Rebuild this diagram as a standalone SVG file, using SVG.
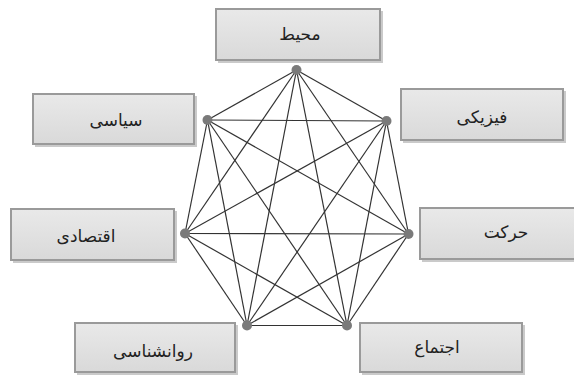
<svg xmlns="http://www.w3.org/2000/svg" width="574" height="376" viewBox="0 0 574 376">
<style>
.box{fill:url(#g);stroke:#9a9a9a;stroke-width:2}
.sh{fill:#cacaca}
.lbl{font-family:"DejaVu Sans","Noto Sans",sans-serif;font-size:17px;fill:#222;text-anchor:middle}
.dot{fill:#7a7a7a}
#edges line{stroke:#333;stroke-width:1.2}
</style>
<defs>
<linearGradient id="g" x1="0" y1="0" x2="0" y2="1">
<stop offset="0" stop-color="#e9e9e9"/>
<stop offset="1" stop-color="#d9d9d9"/>
</linearGradient>
</defs>
<rect width="574" height="376" fill="#fff"/>
<g id="edges">
<line x1="296.5" y1="70" x2="207.5" y2="120"/>
<line x1="296.5" y1="70" x2="386.5" y2="121"/>
<line x1="296.5" y1="70" x2="185" y2="233.5"/>
<line x1="296.5" y1="70" x2="408.5" y2="234"/>
<line x1="296.5" y1="70" x2="247" y2="325.5"/>
<line x1="296.5" y1="70" x2="347" y2="325.5"/>
<line x1="207.5" y1="120" x2="386.5" y2="121"/>
<line x1="207.5" y1="120" x2="185" y2="233.5"/>
<line x1="207.5" y1="120" x2="408.5" y2="234"/>
<line x1="207.5" y1="120" x2="247" y2="325.5"/>
<line x1="207.5" y1="120" x2="347" y2="325.5"/>
<line x1="386.5" y1="121" x2="185" y2="233.5"/>
<line x1="386.5" y1="121" x2="408.5" y2="234"/>
<line x1="386.5" y1="121" x2="247" y2="325.5"/>
<line x1="386.5" y1="121" x2="347" y2="325.5"/>
<line x1="185" y1="233.5" x2="408.5" y2="234"/>
<line x1="185" y1="233.5" x2="247" y2="325.5"/>
<line x1="185" y1="233.5" x2="347" y2="325.5"/>
<line x1="408.5" y1="234" x2="247" y2="325.5"/>
<line x1="408.5" y1="234" x2="347" y2="325.5"/>
<line x1="247" y1="325.5" x2="347" y2="325.5"/>
</g>
<g id="n-mohit">
<rect class="sh" x="218" y="11" width="165" height="52"/>
<rect class="box" x="216" y="9" width="164" height="51"/>
<text class="lbl" x="300" y="40">محیط</text>
<circle class="dot" cx="296.5" cy="70" r="5"/>
</g>
<g id="n-fiziki">
<rect class="sh" x="403" y="91" width="163" height="52"/>
<rect class="box" x="401" y="89" width="162" height="51"/>
<text class="lbl" x="482" y="123">فیزیکی</text>
<circle class="dot" cx="386.5" cy="121" r="5"/>
</g>
<g id="n-siasi">
<rect class="sh" x="35" y="96" width="162" height="51"/>
<rect class="box" x="33" y="94" width="161" height="50"/>
<text class="lbl" x="116" y="126">سیاسی</text>
<circle class="dot" cx="207.5" cy="120" r="5"/>
</g>
<g id="n-eghtesadi">
<rect class="sh" x="13" y="211" width="164" height="52"/>
<rect class="box" x="11" y="209" width="163" height="51"/>
<text class="lbl" x="86" y="242">اقتصادی</text>
<circle class="dot" cx="185" cy="233.5" r="5"/>
</g>
<g id="n-harekat">
<rect class="sh" x="422" y="210" width="160" height="52"/>
<rect class="box" x="420" y="208" width="160" height="51"/>
<text class="lbl" x="506" y="238">حرکت</text>
<circle class="dot" cx="408.5" cy="234" r="5"/>
</g>
<g id="n-ravanshenasi">
<rect class="sh" x="77" y="325" width="161" height="50"/>
<rect class="box" x="75" y="323" width="160" height="49"/>
<text class="lbl" x="153" y="357">روانشناسی</text>
<circle class="dot" cx="247" cy="325.5" r="5"/>
</g>
<g id="n-ejtema">
<rect class="sh" x="362" y="325" width="163" height="50"/>
<rect class="box" x="360" y="323" width="162" height="49"/>
<text class="lbl" x="437" y="353">اجتماع</text>
<circle class="dot" cx="347" cy="325.5" r="5"/>
</g>
</svg>
